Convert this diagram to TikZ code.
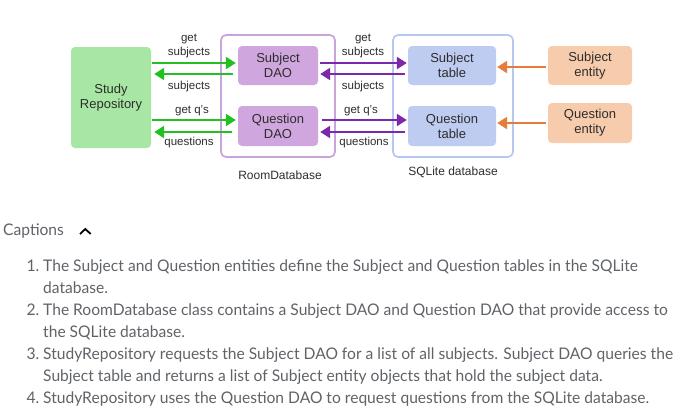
\documentclass[tikz,border=0pt]{standalone}
\usepackage{fontspec}
\setmainfont{Liberation Sans}
\newfontfamily\capfont[FakeStretch=0.975]{Lato}
\usetikzlibrary{calc,arrows.meta}

\definecolor{repogreen}{RGB}{168,230,163}
\definecolor{daopurple}{RGB}{207,166,221}
\definecolor{roomline}{RGB}{201,163,220}
\definecolor{tableblue}{RGB}{189,204,240}
\definecolor{sqlline}{RGB}{182,199,240}
\definecolor{entorange}{RGB}{246,204,172}
\definecolor{greenarr}{RGB}{34,192,34}
\definecolor{purplearr}{RGB}{124,40,170}
\definecolor{orangearr}{RGB}{230,124,58}
\definecolor{labelgray}{RGB}{45,45,45}
\definecolor{capgray}{RGB}{95,99,104}

\tikzset{
  box/.style={rounded corners=4pt, inner sep=0pt, align=center, text=labelgray,
    font=\fontsize{13}{15}\selectfont},
  frame/.style={rounded corners=5pt, line width=1.7pt, fill=white, inner sep=0pt},
  arr/.style={line width=2.3pt, -{Triangle[length=10pt,width=12pt]}},
  arrlbl/.style={inner sep=0pt, align=center, text=labelgray,
    font=\fontsize{11.5}{14}\selectfont},
  framelbl/.style={inner sep=0pt, text=labelgray, font=\fontsize{12}{14}\selectfont},
  capline/.style={anchor=base west, inner sep=0pt, text=capgray,
    font=\capfont\fontsize{16}{22}\selectfont},
}

\begin{document}
\begin{tikzpicture}[x=1pt,y=1pt,yscale=-1,xscale=1]
  \useasboundingbox (0,0) rectangle (688,416);
  %Frames
  \node[frame, draw=roomline, minimum width=114, minimum height=122] (room) at (278,96) {};
  \node[frame, draw=sqlline, minimum width=120, minimum height=122] (sqlite) at (453,96) {};
  %Boxes
  \node[box, fill=repogreen, minimum width=80, minimum height=101] (repo) at (111,97.5) {Study\\Repository};
  \node[box, fill=daopurple, minimum width=80, minimum height=39] (sdao) at (278,65.5) {Subject\\DAO};
  \node[box, fill=daopurple, minimum width=80, minimum height=40] (qdao) at (278,126) {Question\\DAO};
  \node[box, fill=tableblue, minimum width=88, minimum height=39] (stab) at (452,65.5) {Subject\\table};
  \node[box, fill=tableblue, minimum width=88, minimum height=40] (qtab) at (452,126) {Question\\table};
  \node[box, fill=entorange, minimum width=84, minimum height=39] (sent) at (590,65.5) {Subject\\entity};
  \node[box, fill=entorange, minimum width=84, minimum height=40] (qent) at (590,123) {Question\\entity};

  %Green arrows
  \draw[arr, greenarr] ($(repo.east |- sdao.west)+(1,-2.5)$) -- ($(sdao.west)+(-2,-2.5)$);
  \draw[arr, greenarr] ($(sdao.west)+(-5,8.5)$) -- ($(repo.east |- sdao.west)+(3,8.5)$);
  \draw[arr, greenarr] ($(repo.east |- qdao.west)+(1,-6)$) -- ($(qdao.west)+(-2,-6)$);
  \draw[arr, greenarr] ($(qdao.west)+(-6,6)$) -- ($(repo.east |- qdao.west)+(3,6)$);
  %Purple arrows
  \draw[arr, purplearr] ($(sdao.east)+(2,-2.5)$) -- ($(stab.west)+(-1,-2.5)$);
  \draw[arr, purplearr] ($(stab.west)+(-3,8.5)$) -- ($(sdao.east)+(2,8.5)$);
  \draw[arr, purplearr] ($(qdao.east)+(4,-6)$) -- ($(qtab.west)+(-1,-6)$);
  \draw[arr, purplearr] ($(qtab.west)+(-3,6)$) -- ($(qdao.east)+(2,6)$);
  %Orange arrows
  \draw[arr, orangearr] ($(sent.west)+(-2,1.5)$) -- ($(stab.east)+(1,1.5)$);
  \draw[arr, orangearr] ($(qent.west)+(-2,0)$) -- ($(qtab.east |- qent.west)+(1,0)$);

  % Text Node
  \node[arrlbl] (getsubjA) at (189,46) {get\\subjects};
  \node[arrlbl] (subjA) at (189,87) {subjects};
  \node[arrlbl] (getqA) at (192,111) {get q's};
  \node[arrlbl] (questA) at (189,143) {questions};
  \node[arrlbl] (getsubjB) at (363,46) {get\\subjects};
  \node[arrlbl] (subjB) at (363,87) {subjects};
  \node[arrlbl] (getqB) at (361,111) {get q's};
  \node[arrlbl] (questB) at (364,143) {questions};
  \node[framelbl] (roomlbl) at (280,175) {RoomDatabase};
  \node[framelbl] (sqllbl) at (453,172) {SQLite database};

  % Captions
  \node[capline] (captitle) at (3,235.5) {Captions};
  \draw[line width=1.8pt] (80,234) -- (85.3,229) -- (90.7,234);
  \node[capline] (num1) at (26.5,271) {1.};
  \node[capline] (cap1a) at (43,271) {The Subject and Question entities define the Subject and Question tables in the SQLite};
  \node[capline] (cap1b) at (43,293) {database.};
  \node[capline] (num2) at (26.5,315) {2.};
  \node[capline] (cap2a) at (43,315) {The RoomDatabase class contains a Subject DAO and Question DAO that provide access to};
  \node[capline] (cap2b) at (43,337) {the SQLite database.};
  \node[capline] (num3) at (26.5,359) {3.};
  \node[capline] (cap3a) at (43,359) {StudyRepository requests the Subject DAO for a list of all subjects. Subject DAO queries the};
  \node[capline] (cap3b) at (43,381) {Subject table and returns a list of Subject entity objects that hold the subject data.};
  \node[capline] (num4) at (26.5,403) {4.};
  \node[capline] (cap4a) at (43,403) {StudyRepository uses the Question DAO to request questions from the SQLite database.};
\end{tikzpicture}
\end{document}
